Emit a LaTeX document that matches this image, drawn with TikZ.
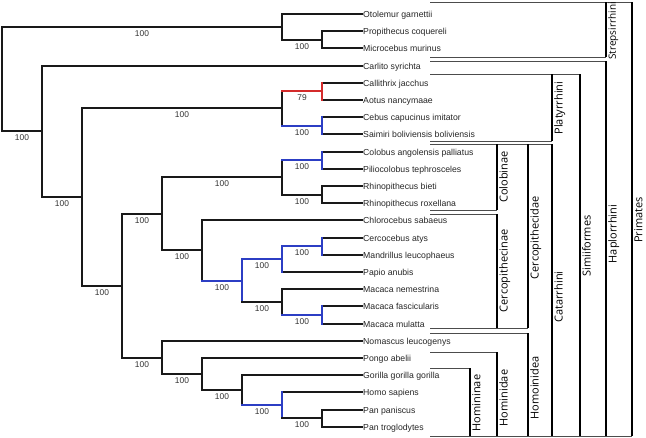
\documentclass[tikz,border=0pt]{standalone}
\usepackage{fontspec}
\setmainfont{Liberation Sans}
\newfontfamily\cladefont{Open Sans}
\definecolor{bsred}{RGB}{212,43,43}
\definecolor{bsblue}{RGB}{44,62,196}

\begin{document}
\begin{tikzpicture}[x=1pt, y=-1pt,
    br/.style={line width=2pt, line cap=rect, black!90},
    bs/.style={font=\fontsize{8.4}{10}\selectfont, inner sep=0pt, yshift=-6.4pt, black!80},
    tip/.style={font=\fontsize{8.7}{10}\selectfont, anchor=base west, inner sep=1pt, yshift=-3.1pt, black!85},
    rim/.style={line width=1pt, black!70},
    bar/.style={line width=2.4pt, black},
    clade/.style={rotate=90, anchor=north, inner sep=1pt}
]

\foreach \nd/\bx/\ta/\tb/\my/\fs/\txt in {
    prim/632/2.5/436.5/220/11/Primates,
    strep/606/2.5/57.5/31/10/Strepsirrhini,
    hapl/606/61.5/436.5/234/11/Haplorrhini,
    simi/580/74.5/436.5/246/11/Simiiformes,
    plat/552/74.5/141.5/108/11/Platyrrhini,
    cata/552/144.5/436.5/297/11/Catarrhini,
    cdae/528/144.5/328.5/238/11/Cercopithecidae,
    colo/497/144.5/210.5/177/11/Colobinae,
    cnae/497/214.5/328.5/271/11/Cercopithecinae,
    hoid/528/333.5/436.5/388/11/Homoinidea,
    hdae/497/352.5/436.5/398/11/Hominidae,
    hnae/470/368.5/436.5/403/11/Homininae}{
    \draw[rim] (430,\ta) -- (\bx,\ta) (430,\tb) -- (\bx,\tb);
    \draw[bar] (\bx,\ta) -- (\bx,\tb);
    \node[clade, font=\cladefont\fontsize{\fs}{13}\selectfont] (k\nd) at (\bx+1,\my) {\txt};
}

\foreach \nd/\bx/\by in {
    root/2/79, nStrep/282/27, nLemur/322/40, nHapl/42/131,
    nSimi/82/197, nPlat/282/108, nCall/322/91, nCebu/322/126,
    nCata/122/286, nCdae/162/214, nColo/282/177, nColA/322/160,
    nRhin/322/195, nCnae/202/250, nPapi/242/281, nMand/282/259,
    nCerc/322/246, nMaca/282/302, nMacF/322/315, nHoid/162/358,
    nHdae/202/374, nHnae/242/390, nHini/282/405, nPan/322/418}
    \coordinate (\nd) at (\bx,\by);

\foreach \i/\pa/\txt in {
    1/nStrep/Otolemur garnettii,
    2/nLemur/Propithecus coquereli,
    3/nLemur/Microcebus murinus,
    4/nHapl/Carlito syrichta,
    5/nCall/Callithrix jacchus,
    6/nCall/Aotus nancymaae,
    7/nCebu/Cebus capucinus imitator,
    8/nCebu/Saimiri boliviensis boliviensis,
    9/nColA/Colobus angolensis palliatus,
    10/nColA/Piliocolobus tephrosceles,
    11/nRhin/Rhinopithecus bieti,
    12/nRhin/Rhinopithecus roxellana,
    13/nCnae/Chlorocebus sabaeus,
    14/nCerc/Cercocebus atys,
    15/nCerc/Mandrillus leucophaeus,
    16/nMand/Papio anubis,
    17/nMaca/Macaca nemestrina,
    18/nMacF/Macaca fascicularis,
    19/nMacF/Macaca mulatta,
    20/nHoid/Nomascus leucogenys,
    21/nHdae/Pongo abelii,
    22/nHnae/Gorilla gorilla gorilla,
    23/nHini/Homo sapiens,
    24/nPan/Pan paniscus,
    25/nPan/Pan troglodytes}{
    \coordinate (l\i) at (362,{round(14+17.2*(\i-1))});
    \node[tip] (t\i) at (l\i) {\txt};
    \draw[br] (\pa |- l\i) -- (l\i);
}

\draw[br] (root |- nStrep) -- (root |- nHapl);

\foreach \nd/\pa/\ka/\kb/\col/\bsv in {
    nStrep/root/l1/nLemur/black!90/100,
    nLemur/nStrep/l2/l3/black!90/100,
    nHapl/root/l4/nSimi/black!90/100,
    nSimi/nHapl/nPlat/nCata/black!90/100,
    nPlat/nSimi/nCall/nCebu/black!90/100,
    nCall/nPlat/l5/l6/bsred/79,
    nCebu/nPlat/l7/l8/bsblue/100,
    nCata/nSimi/nCdae/nHoid/black!90/100,
    nCdae/nCata/nColo/nCnae/black!90/100,
    nColo/nCdae/nColA/nRhin/black!90/100,
    nColA/nColo/l9/l10/bsblue/100,
    nRhin/nColo/l11/l12/black!90/100,
    nCnae/nCdae/l13/nPapi/black!90/100,
    nPapi/nCnae/nMand/nMaca/bsblue/100,
    nMand/nPapi/nCerc/l16/bsblue/100,
    nCerc/nMand/l14/l15/bsblue/100,
    nMaca/nPapi/l17/nMacF/black!90/100,
    nMacF/nMaca/l18/l19/bsblue/100,
    nHoid/nCata/l20/nHdae/black!90/100,
    nHdae/nHoid/l21/nHnae/black!90/100,
    nHnae/nHdae/l22/nHini/black!90/100,
    nHini/nHnae/l23/nPan/bsblue/100,
    nPan/nHini/l24/l25/black!90/100}{
    \draw[br,\col] (\pa |- \nd) -- node[bs] (b\nd) {\bsv} (\nd);
    \draw[br,\col] (\nd |- \ka) -- (\nd |- \kb);
}

\path[use as bounding box] (0,0) rectangle (646,438);
\end{tikzpicture}
\end{document}
